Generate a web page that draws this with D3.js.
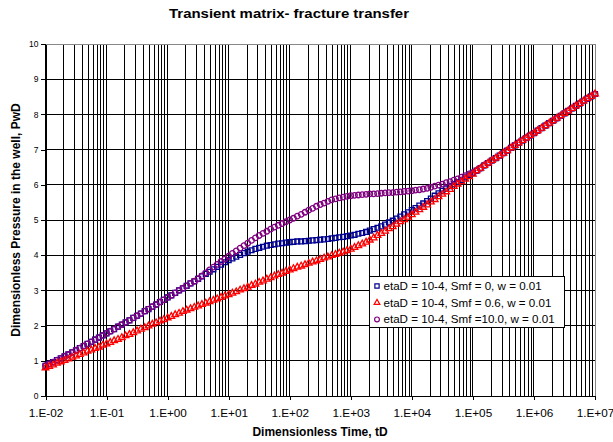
<!DOCTYPE html>
<html>
<head>
<meta charset="utf-8">
<script src="https://cdn.jsdelivr.net/npm/d3@7.9.0/dist/d3.min.js"></script>
<style>
  body { margin: 0; background: #fff; }
  svg { display: block; font-family: Arial, "Liberation Sans", sans-serif; }
</style>
</head>
<body>
<svg id="chart" width="613" height="442"></svg>
<script>
// dimensionless time, 16 points per decade
const tD = [
  1.00e-2, 1.15e-2, 1.33e-2, 1.54e-2, 1.78e-2, 2.05e-2, 2.37e-2, 2.74e-2, 3.16e-2, 3.65e-2, 4.22e-2, 4.87e-2, 5.62e-2, 6.49e-2, 7.50e-2, 8.66e-2,
  1.00e-1, 1.15e-1, 1.33e-1, 1.54e-1, 1.78e-1, 2.05e-1, 2.37e-1, 2.74e-1, 3.16e-1, 3.65e-1, 4.22e-1, 4.87e-1, 5.62e-1, 6.49e-1, 7.50e-1, 8.66e-1,
  1.00e0, 1.15e0, 1.33e0, 1.54e0, 1.78e0, 2.05e0, 2.37e0, 2.74e0, 3.16e0, 3.65e0, 4.22e0, 4.87e0, 5.62e0, 6.49e0, 7.50e0, 8.66e0,
  1.00e1, 1.15e1, 1.33e1, 1.54e1, 1.78e1, 2.05e1, 2.37e1, 2.74e1, 3.16e1, 3.65e1, 4.22e1, 4.87e1, 5.62e1, 6.49e1, 7.50e1, 8.66e1,
  1.00e2, 1.15e2, 1.33e2, 1.54e2, 1.78e2, 2.05e2, 2.37e2, 2.74e2, 3.16e2, 3.65e2, 4.22e2, 4.87e2, 5.62e2, 6.49e2, 7.50e2, 8.66e2,
  1.00e3, 1.15e3, 1.33e3, 1.54e3, 1.78e3, 2.05e3, 2.37e3, 2.74e3, 3.16e3, 3.65e3, 4.22e3, 4.87e3, 5.62e3, 6.49e3, 7.50e3, 8.66e3,
  1.00e4, 1.15e4, 1.33e4, 1.54e4, 1.78e4, 2.05e4, 2.37e4, 2.74e4, 3.16e4, 3.65e4, 4.22e4, 4.87e4, 5.62e4, 6.49e4, 7.50e4, 8.66e4,
  1.00e5, 1.15e5, 1.33e5, 1.54e5, 1.78e5, 2.05e5, 2.37e5, 2.74e5, 3.16e5, 3.65e5, 4.22e5, 4.87e5, 5.62e5, 6.49e5, 7.50e5, 8.66e5,
  1.00e6, 1.15e6, 1.33e6, 1.54e6, 1.78e6, 2.05e6, 2.37e6, 2.74e6, 3.16e6, 3.65e6, 4.22e6, 4.87e6, 5.62e6, 6.49e6, 7.50e6, 8.66e6,
  1.00e7
];

// etaD = 10-4, Smf = 0, w = 0.01
const pwdSmf0 = [
  0.86, 0.91, 0.96, 1.02, 1.07, 1.13, 1.18, 1.24, 1.30, 1.36, 1.42, 1.48, 1.54, 1.60, 1.66, 1.72,
  1.78, 1.84, 1.90, 1.97, 2.03, 2.09, 2.15, 2.22, 2.28, 2.34, 2.41, 2.47, 2.54, 2.60, 2.67, 2.73,
  2.80, 2.86, 2.93, 3.00, 3.06, 3.13, 3.20, 3.26, 3.33, 3.40, 3.47, 3.53, 3.60, 3.67, 3.73, 3.80,
  3.86, 3.91, 3.96, 4.01, 4.06, 4.10, 4.14, 4.18, 4.21, 4.24, 4.27, 4.29, 4.31, 4.33, 4.34, 4.36,
  4.37, 4.38, 4.39, 4.39, 4.40, 4.41, 4.42, 4.43, 4.44, 4.45, 4.46, 4.48, 4.49, 4.51, 4.52, 4.54,
  4.56, 4.58, 4.61, 4.63, 4.66, 4.70, 4.74, 4.78, 4.82, 4.87, 4.93, 4.98, 5.04, 5.10, 5.16, 5.22,
  5.28, 5.34, 5.41, 5.47, 5.54, 5.61, 5.69, 5.76, 5.83, 5.89, 5.96, 6.02, 6.08, 6.14, 6.21, 6.27,
  6.33, 6.40, 6.47, 6.55, 6.62, 6.69, 6.76, 6.83, 6.90, 6.97, 7.05, 7.12, 7.19, 7.26, 7.33, 7.40,
  7.47, 7.54, 7.61, 7.68, 7.75, 7.82, 7.89, 7.96, 8.03, 8.10, 8.17, 8.24, 8.31, 8.38, 8.45, 8.51,
  8.58
];

// etaD = 10-4, Smf = 0.6, w = 0.01
const pwdSmf06 = [
  0.80, 0.84, 0.88, 0.93, 0.97, 1.01, 1.05, 1.10, 1.14, 1.18, 1.22, 1.27, 1.31, 1.35, 1.39, 1.44,
  1.48, 1.52, 1.57, 1.61, 1.66, 1.71, 1.75, 1.80, 1.85, 1.90, 1.94, 1.99, 2.04, 2.08, 2.13, 2.17,
  2.22, 2.26, 2.31, 2.35, 2.40, 2.44, 2.48, 2.52, 2.56, 2.60, 2.64, 2.68, 2.72, 2.76, 2.80, 2.84,
  2.88, 2.92, 2.96, 3.01, 3.05, 3.09, 3.14, 3.18, 3.23, 3.27, 3.32, 3.36, 3.41, 3.45, 3.49, 3.54,
  3.58, 3.62, 3.66, 3.69, 3.73, 3.77, 3.81, 3.84, 3.88, 3.92, 3.95, 3.99, 4.02, 4.06, 4.09, 4.13,
  4.17, 4.22, 4.27, 4.32, 4.37, 4.43, 4.49, 4.56, 4.62, 4.68, 4.75, 4.81, 4.88, 4.95, 5.01, 5.08,
  5.15, 5.22, 5.29, 5.36, 5.43, 5.51, 5.58, 5.66, 5.73, 5.80, 5.87, 5.95, 6.02, 6.09, 6.16, 6.23,
  6.30, 6.40, 6.47, 6.55, 6.62, 6.69, 6.76, 6.83, 6.90, 6.97, 7.05, 7.12, 7.19, 7.26, 7.33, 7.40,
  7.47, 7.54, 7.61, 7.68, 7.75, 7.82, 7.89, 7.96, 8.03, 8.10, 8.17, 8.24, 8.31, 8.38, 8.45, 8.51,
  8.58
];

// etaD = 10-4, Smf = 10.0, w = 0.01
const pwdSmf10 = [
  0.86, 0.91, 0.96, 1.02, 1.07, 1.13, 1.18, 1.24, 1.30, 1.36, 1.42, 1.48, 1.54, 1.60, 1.66, 1.72,
  1.78, 1.84, 1.90, 1.97, 2.03, 2.09, 2.15, 2.22, 2.28, 2.34, 2.41, 2.47, 2.54, 2.60, 2.67, 2.73,
  2.80, 2.86, 2.93, 3.00, 3.06, 3.13, 3.20, 3.26, 3.33, 3.41, 3.50, 3.58, 3.66, 3.74, 3.82, 3.89,
  3.97, 4.05, 4.12, 4.20, 4.27, 4.34, 4.42, 4.49, 4.56, 4.62, 4.68, 4.74, 4.80, 4.85, 4.90, 4.95,
  5.00, 5.05, 5.11, 5.16, 5.22, 5.28, 5.33, 5.39, 5.44, 5.48, 5.53, 5.57, 5.60, 5.63, 5.65, 5.67,
  5.69, 5.70, 5.71, 5.72, 5.73, 5.74, 5.74, 5.75, 5.76, 5.77, 5.78, 5.78, 5.79, 5.80, 5.81, 5.82,
  5.83, 5.85, 5.86, 5.88, 5.90, 5.93, 5.96, 5.99, 6.02, 6.06, 6.09, 6.13, 6.17, 6.22, 6.26, 6.31,
  6.35, 6.40, 6.47, 6.55, 6.62, 6.69, 6.76, 6.83, 6.90, 6.97, 7.05, 7.12, 7.19, 7.26, 7.33, 7.40,
  7.47, 7.54, 7.61, 7.68, 7.75, 7.82, 7.89, 7.96, 8.03, 8.10, 8.17, 8.24, 8.31, 8.38, 8.45, 8.51,
  8.58
];

const xTickValues = [1e-2, 1e-1, 1e0, 1e1, 1e2, 1e3, 1e4, 1e5, 1e6, 1e7];
const xTickLabels = ['1.E-02', '1.E-01', '1.E+00', '1.E+01', '1.E+02', '1.E+03', '1.E+04', '1.E+05', '1.E+06', '1.E+07'];
const yTickValues = [0, 1, 2, 3, 4, 5, 6, 7, 8, 9, 10];
const seriesNames = [
  'etaD = 10-4, Smf = 0, w = 0.01',
  'etaD = 10-4, Smf = 0.6, w = 0.01',
  'etaD = 10-4, Smf =10.0, w = 0.01'
];

const series = [
  { name: seriesNames[0], values: pwdSmf0, color: '#000090', shape: d3.symbolSquare, size: 24 },
  { name: seriesNames[1], values: pwdSmf06, color: '#ff0000', shape: d3.symbolTriangle, size: 19 },
  { name: seriesNames[2], values: pwdSmf10, color: '#800080', shape: d3.symbolCircle, size: 24 }
];
// drawing order: red ends up on top at late time
const drawOrder = [0, 2, 1];

const svg = d3.select('#chart');
const x = d3.scaleLog().domain([1e-2, 1e7]).range([45.5, 595]);
const y = d3.scaleLinear().domain([0, 10]).range([396, 44]);

// grid
const grid = svg.append('g').attr('shape-rendering', 'crispEdges');
grid.selectAll('line.v')
  .data(x.ticks())
  .join('line')
  .attr('class', 'v')
  .attr('x1', (d) => x(d)).attr('x2', (d) => x(d))
  .attr('y1', y(10)).attr('y2', y(0))
  .attr('stroke', '#000');
grid.selectAll('line.h')
  .data(yTickValues)
  .join('line')
  .attr('class', 'h')
  .attr('x1', x(1e-2)).attr('x2', x(1e7))
  .attr('y1', (d) => y(d)).attr('y2', (d) => y(d))
  .attr('stroke', '#000');

// top / right border in grey
grid.append('line')
  .attr('x1', x(1e-2)).attr('x2', x(1e7)).attr('y1', y(10)).attr('y2', y(10))
  .attr('stroke', '#888');
grid.append('line')
  .attr('x1', x(1e7)).attr('x2', x(1e7)).attr('y1', y(10)).attr('y2', y(0))
  .attr('stroke', '#888');

// axes
const yAxis = svg.append('g')
  .attr('transform', `translate(${x(1e-2)},0)`)
  .call(d3.axisLeft(y).tickValues(yTickValues).tickSize(5).tickSizeOuter(0).tickPadding(2));
yAxis.select('.domain').attr('stroke', '#000');
yAxis.selectAll('text').attr('font-size', 8.5).attr('fill', '#000');

const xAxis = svg.append('g')
  .attr('transform', `translate(0,${y(0)})`)
  .call(d3.axisBottom(x).tickValues(xTickValues).tickSize(4).tickSizeOuter(0)
    .tickFormat((d, i) => xTickLabels[i]));
xAxis.select('.domain').attr('stroke', '#000');
xAxis.selectAll('text').remove();
xAxis.selectAll('.tick')
  .append('text')
  .attr('transform', 'translate(0,20.5) scale(1.12,1)')
  .attr('text-anchor', 'middle')
  .attr('font-size', 10.5)
  .attr('fill', '#000')
  .text((d, i) => xTickLabels[i]);
svg.selectAll('.domain, .tick line').attr('shape-rendering', 'crispEdges');

// series markers
drawOrder.forEach((k) => {
  const s = series[k];
  const pts = tD.slice(0, s.values.length).map((t, i) => [t, s.values[i]]);
  svg.append('g')
    .selectAll('path')
    .data(pts)
    .join('path')
    .attr('transform', (d) => `translate(${x(d[0])},${y(d[1])})`)
    .attr('d', d3.symbol().type(s.shape).size(s.size))
    .attr('fill', 'none')
    .attr('stroke', s.color)
    .attr('stroke-width', 1.3);
});

// legend
const legend = svg.append('g').attr('transform', 'translate(369.5,276.5)');
legend.append('rect')
  .attr('width', 195).attr('height', 51)
  .attr('fill', '#fff').attr('stroke', '#000')
  .attr('shape-rendering', 'crispEdges');
const rows = legend.selectAll('g.row')
  .data(series)
  .join('g')
  .attr('class', 'row')
  .attr('transform', (d, i) => `translate(0,${9.5 + i * 16.7})`);
rows.append('path')
  .attr('transform', 'translate(7.5,0)')
  .attr('d', (d) => d3.symbol().type(d.shape).size(d.size * 0.75)())
  .attr('fill', 'none')
  .attr('stroke', (d) => d.color)
  .attr('stroke-width', 1.2);
rows.append('text')
  .attr('x', 14)
  .attr('y', 4)
  .attr('font-size', 11.6)
  .attr('fill', '#000')
  .text((d) => d.name);

// titles
svg.append('text')
  .attr('transform', 'translate(289,18) scale(1.15,1)')
  .attr('text-anchor', 'middle')
  .attr('font-size', 13)
  .attr('font-weight', 'bold')
  .text('Transient matrix- fracture transfer');

svg.append('text')
  .attr('x', 320).attr('y', 436)
  .attr('text-anchor', 'middle')
  .attr('font-size', 12)
  .attr('font-weight', 'bold')
  .text('Dimensionless Time, tD');

svg.append('text')
  .attr('transform', 'translate(19.5,220) rotate(-90)')
  .attr('text-anchor', 'middle')
  .attr('font-size', 12)
  .attr('font-weight', 'bold')
  .text('Dimensionless Pressure in the well, PwD');
</script>
</body>
</html>
